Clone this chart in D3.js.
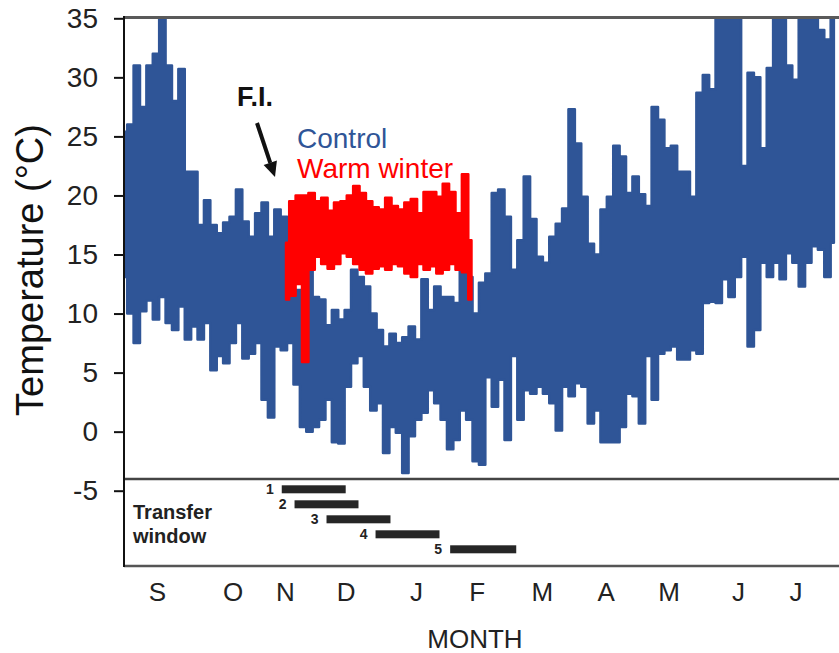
<!DOCTYPE html>
<html>
<head>
<meta charset="utf-8">
<script src="https://cdn.jsdelivr.net/npm/d3@7"></script>
<style>
  body { margin: 0; background: #fff; }
  svg { display: block; font-family: "Liberation Sans", Arial, sans-serif; }
</style>
</head>
<body>
<svg id="chart" width="839" height="653"></svg>
<script>
// days since 1 Sep, one sample every 3 days
const sampleDays = d3.range(0, 334, 3);

const controlHigh = [
    25.4, 26, 31, 27.5, 31, 32, 35, 31, 28, 30.7,
    22, 22, 17.5, 19.6, 17.5, 16.8, 17.7, 18.2, 20.5, 17.8,
    16.5, 18.5, 19.4, 16.5, 18.8, 18.2,
    12, 12, 12, 13.7, 11.4, 11.2, 9, 10.3, 9.5, 10.3,
    13.7, 13.1, 12.3, 10, 8.6, 7.2, 8.3, 7.5, 8, 8.9,
    7.8, 12.9, 10.3, 12.3, 11.4, 11.4, 10.9, 14, 13.1, 10,
    12.6, 13.4, 20.2, 20.5, 18.2, 13.7, 16.2, 21.6, 18, 14.8,
    14.3, 16.5, 17.6, 18.9, 27.3, 24.4, 19.9, 15.9, 15, 18.8,
    19.9, 24.2, 23.3, 20.2, 21.6, 20.1, 19.1, 27.5,
    26.4, 24, 24.2, 22, 22, 19.9, 28.7, 30.2, 29, 36,
    36, 36, 35.5, 22.5, 30.4, 30, 24, 30.8, 36, 36,
    31, 29.8, 36, 36, 36, 34, 33.2, 35.5
];
const controlLow = [
    13.1, 10, 7.5, 10.2, 11.1, 9.5, 11.4, 9.2, 8.6, 10.6,
    7.8, 8.9, 7.8, 9.2, 5.2, 6.4, 5.8, 7.5, 9.2, 6.2,
    6.6, 7.5, 2.7, 1.2, 7.2, 6.9,
    7.5, 4, 0.4, 0, 0.4, 1, 2.7, -0.9, -1, 3.8,
    5.8, 6.4, 3.8, 1.8, 2.4, -1.8, 0.4, -0.1, -3.5, -0.4,
    1, 1.6, 3.5, 2.4, 1, -1.5, -0.7, 1.8, 1, -2.5,
    -2.8, 4.6, 2.1, 4.4, -0.7, 6.4, 1, 3.5, 3.2, 3.8,
    3.2, 2.4, 0.1, 3.8, 3, 4.1, 3.8, 0.7, 1.8, -0.9,
    -0.9, -0.9, 0.4, 3.2, 3, 0.7, 6.4, 2.7,
    6.6, 6.9, 7.2, 6.1, 6.1, 6.9, 6.6, 10.9, 11, 10.9,
    12.9, 11.4, 13.1, 14.8, 7.2, 8.6, 14.3, 13.1, 14.3, 12.9,
    15.1, 14.3, 12.3, 14.3, 15.7, 15.4, 13.1, 16
];

const warmDays = d3.range(76, 164, 3);
const warmHigh = [
    16, 19.5, 20, 20, 20.2, 19.5, 19.8, 18.7, 19.4, 19.5,
    20, 20.8, 20.2, 19.5, 19, 18.8, 19.8, 19.1, 18.8, 19.4,
    19.7, 18.5, 20.3, 20.3, 19.9, 21, 20.3, 18.5, 21.8, 16.2
];
const warmLow = [
    11.2, 11.5, 12.5, 5.9, 13.7, 14.8, 14.2, 13.8, 14.2, 15.1,
    14.8, 14.2, 13.7, 13.4, 13.8, 14, 13.7, 14.2, 14, 13.4,
    13.1, 14.2, 13.7, 14, 13.4, 13.7, 14.2, 13.7, 13.5, 11.2
];

const yTicks = [-5, 0, 5, 10, 15, 20, 25, 30, 35];
const monthLabels = ['S', 'O', 'N', 'D', 'J', 'F', 'M', 'A', 'M', 'J', 'J'];
const monthDays = [15.5, 51, 75.5, 104, 137, 165.5, 196, 226, 255.5, 288, 315];

const windowLabels = ['1', '2', '3', '4', '5'];
const windowStart = [74, 80, 95, 118, 153];
const windowEnd = [104, 110, 125, 148, 184];

const BLUE = '#2f5597';
const RED = '#ff0000';

const svg = d3.select('#chart');
const left = 124, right = 836;
const panelY = 479, bottomY = 566;

const x = d3.scaleLinear().domain([0, 334]).range([left, right]);
const y = d3.scaleLinear().domain([-5, 35]).range([490.7, 18.3]);

svg.append('clipPath').attr('id', 'plot-clip')
    .append('rect')
    .attr('x', left).attr('y', 18)
    .attr('width', 839 - left).attr('height', panelY - 18);

function drawBand(days, hi, lo, color) {
    const area = d3.area()
        .curve(d3.curveStep)
        .x((d, i) => x(days[i]))
        .y0((d, i) => y(lo[i]))
        .y1((d, i) => y(hi[i]));
    svg.append('path')
        .datum(hi)
        .attr('clip-path', 'url(#plot-clip)')
        .attr('d', area)
        .attr('fill', color)
        .attr('stroke', color)
        .attr('stroke-width', 2.5)
        .attr('stroke-linejoin', 'round');
}

drawBand(sampleDays, controlHigh, controlLow, BLUE);
drawBand(warmDays, warmHigh, warmLow, RED);

// frame
svg.append('line')
    .attr('x1', left).attr('x2', 839).attr('y1', 17.5).attr('y2', 17.5)
    .attr('stroke', '#5a5a5a').attr('stroke-width', 3);
svg.append('line')
    .attr('x1', left).attr('x2', 839).attr('y1', panelY).attr('y2', panelY)
    .attr('stroke', '#444').attr('stroke-width', 2.5);
svg.append('line')
    .attr('x1', left).attr('x2', 839).attr('y1', bottomY).attr('y2', bottomY)
    .attr('stroke', '#555').attr('stroke-width', 2.5);
svg.append('line')
    .attr('x1', left).attr('x2', left).attr('y1', 16).attr('y2', bottomY + 1)
    .attr('stroke', '#111').attr('stroke-width', 2);

// y axis
const yAxis = svg.append('g')
    .attr('transform', `translate(${left},0)`)
    .call(d3.axisLeft(y).tickValues(yTicks)
        .tickFormat(d => String(d))
        .tickSize(10).tickPadding(16));
yAxis.select('.domain').remove();
yAxis.selectAll('.tick line').attr('stroke', '#111').attr('stroke-width', 2);
yAxis.selectAll('.tick text')
    .attr('fill', '#222')
    .style('font-size', '28px');

svg.append('text')
    .attr('transform', 'translate(43,270) rotate(-90)')
    .attr('text-anchor', 'middle')
    .attr('fill', '#111')
    .style('font-size', '38px')
    .text('Temperature (°C)');

// months
const xAxis = svg.append('g')
    .attr('transform', `translate(0,${bottomY})`)
    .call(d3.axisBottom(x).tickValues(monthDays)
        .tickFormat((d, i) => monthLabels[i])
        .tickSize(0).tickPadding(17));
xAxis.select('.domain').remove();
xAxis.selectAll('.tick text')
    .attr('fill', '#222')
    .style('font-size', '26px');

svg.append('text')
    .attr('x', 475).attr('y', 648)
    .attr('text-anchor', 'middle')
    .attr('fill', '#222')
    .style('font-size', '26px')
    .text('MONTH');

// transfer windows
const row = d3.scalePoint().domain(windowLabels).range([489.3, 549.3]);

svg.selectAll('.window-bar')
    .data(windowLabels)
    .enter()
    .append('rect')
    .attr('class', 'window-bar')
    .attr('x', (d, i) => x(windowStart[i]))
    .attr('y', d => row(d) - 4)
    .attr('width', (d, i) => x(windowEnd[i]) - x(windowStart[i]))
    .attr('height', 8)
    .attr('fill', '#262626');

svg.selectAll('.window-label')
    .data(windowLabels)
    .enter()
    .append('text')
    .attr('class', 'window-label')
    .attr('x', (d, i) => x(windowStart[i]) - 8)
    .attr('y', d => row(d))
    .attr('dy', '0.36em')
    .attr('text-anchor', 'end')
    .attr('fill', '#222')
    .style('font-size', '14px')
    .style('font-weight', 'bold')
    .text(d => d);

const tw = svg.append('text')
    .attr('fill', '#222')
    .style('font-size', '20px')
    .style('font-weight', 'bold');
tw.append('tspan').attr('x', 133).attr('y', 519).text('Transfer');
tw.append('tspan').attr('x', 133).attr('y', 543).text('window');

// legend
svg.append('text')
    .attr('x', 297).attr('y', 148)
    .attr('fill', BLUE)
    .style('font-size', '28px')
    .text('Control');
svg.append('text')
    .attr('x', 297).attr('y', 178)
    .attr('fill', RED)
    .style('font-size', '28px')
    .text('Warm winter');

// F.I. arrow
svg.append('text')
    .attr('x', 237).attr('y', 106)
    .attr('fill', '#111')
    .style('font-size', '27px')
    .style('font-weight', 'bold')
    .text('F.I.');

const from = [257, 123], tip = [275, 177];
const len = Math.hypot(tip[0] - from[0], tip[1] - from[1]);
const ux = (tip[0] - from[0]) / len, uy = (tip[1] - from[1]) / len;
const base = [tip[0] - 15 * ux, tip[1] - 15 * uy];
svg.append('line')
    .attr('x1', from[0]).attr('y1', from[1])
    .attr('x2', base[0]).attr('y2', base[1])
    .attr('stroke', '#111').attr('stroke-width', 4);
svg.append('path')
    .attr('d', `M${tip[0]},${tip[1]}L${base[0] - 7 * uy},${base[1] + 7 * ux}L${base[0] + 7 * uy},${base[1] - 7 * ux}Z`)
    .attr('fill', '#111');
</script>
</body>
</html>
